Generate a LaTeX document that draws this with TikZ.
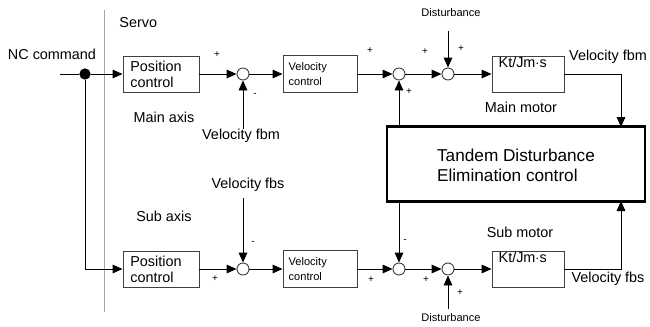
\documentclass[tikz,border=0pt]{standalone}
\usepackage{fontspec}
\setmainfont{Liberation Sans}
\usetikzlibrary{arrows.meta}

\tikzset{
  ctrlbox/.style={draw=black!75, line width=0.7pt, align=left, inner xsep=4.5pt,
    font=\fontsize{10.8}{12}\selectfont},
  smallbox/.style={draw=black!75, line width=0.7pt, align=left, inner xsep=3.5pt,
    font=\fontsize{8.3}{11}\selectfont},
  sumnode/.style={draw=black!75, circle, line width=0.7pt, minimum size=9pt, inner sep=0pt},
  sgn/.style={font=\fontsize{7.5}{7.5}\selectfont, inner sep=0pt},
  txt/.style={font=\fontsize{10.8}{12}\selectfont, inner sep=0pt},
  smalltxt/.style={font=\fontsize{8.3}{9}\selectfont, inner sep=0pt},
}

\begin{document}
\begin{tikzpicture}[x=0.75pt,y=-0.75pt, line width=0.7pt,
    >={Triangle[length=7.5pt,width=6.5pt]}]
        \useasboundingbox (0,0) rectangle (650,326);

        \def\ym{74}
        \def\ys{269}

        % servo border
        \draw[black!35, line width=0.6pt] (104,10) -- (104,312);
        \node[txt, anchor=west] (servo) at (119,23) {Servo};

        \node[txt] (nc) at (52,54) {NC command};
        \coordinate (ncin) at (60,\ym);
        \node[circle, fill=black, minimum size=8.5pt, inner sep=0pt] (split) at (85,\ym) {};

        % main axis
        \node[ctrlbox, minimum width=57pt, minimum height=27pt, text width=46pt] (posm) at (161,\ym) {Position\\control};
        \node[sumnode] (sum1m) at (243,\ym) {};
        \node[smallbox, minimum width=55.5pt, minimum height=27.75pt, text width=47pt] (velm) at (320,\ym) {Velocity\\control};
        \node[sumnode] (sum2m) at (399,\ym) {};
        \node[sumnode] (sum3m) at (448,\ym) {};
        \node[ctrlbox, minimum width=54pt, text width=44pt, inner ysep=1pt, text height=7.5pt, text depth=17.5pt] (motm) at (528,\ym) {Kt/Jm$\cdot$s};

        \node[txt] (axm) at (164,117) {Main axis};
        \node[txt] (fbm) at (241,136) {Velocity fbm};
        \node[smalltxt] (distm) at (451,13) {Disturbance};
        \coordinate (distmin) at (448,31);
        \node[txt] (motmlbl) at (521,107) {Main motor};
        \node[txt] (fbmout) at (608,57) {Velocity fbm};

        \node[sgn] (pa) at (217,55) {+};
        \node[sgn] (pb) at (255,95) {-};
        \node[sgn] (pc) at (370,51) {+};
        \node[sgn] (pd) at (409,92) {+};
        \node[sgn] (pe) at (425,52) {+};
        \node[sgn] (pf) at (461,49) {+};

        % tandem block
        \node[draw, line width=2.2pt, minimum width=193.5pt, minimum height=56pt] (tde) at (516,164) {};
        \node[font=\fontsize{12.9}{15}\selectfont, align=left, inner sep=0pt] (tdetxt) at (516,165) {Tandem Disturbance\\Elimination control};
        \coordinate (tdem) at (621,127);
        \coordinate (tdes) at (621,201);

        % sub axis
        \node[ctrlbox, minimum width=57pt, minimum height=27pt, text width=46pt] (poss) at (161,\ys) {Position\\control};
        \node[sumnode] (sum1s) at (243,\ys) {};
        \node[smallbox, minimum width=55.5pt, minimum height=27.75pt, text width=47pt] (vels) at (320,\ys) {Velocity\\control};
        \node[sumnode] (sum2s) at (399,\ys) {};
        \node[sumnode] (sum3s) at (448,\ys) {};
        \node[ctrlbox, minimum width=54pt, text width=44pt, inner ysep=1pt, text height=7.5pt, text depth=17.5pt] (mots) at (528,\ys) {Kt/Jm$\cdot$s};

        \node[txt] (axs) at (164,216) {Sub axis};
        \node[txt] (fbs) at (248,185) {Velocity fbs};
        \coordinate (fbsin) at (243,198);
        \node[smalltxt] (dists) at (451,318) {Disturbance};
        \coordinate (distsin) at (448,309);
        \node[txt] (motslbl) at (520,232) {Sub motor};
        \node[txt] (fbsout) at (608,279) {Velocity fbs};

        \node[sgn] (qa) at (215,279) {+};
        \node[sgn] (qb) at (253,243) {-};
        \node[sgn] (qc) at (371,280) {+};
        \node[sgn] (qd) at (405,241) {-};
        \node[sgn] (qe) at (426,280) {+};
        \node[sgn] (qf) at (460,293) {+};

        % connectors
        \draw (ncin) -- (split);
        \draw[->] (split) -- (posm);
        \draw[->] (split) |- (poss);

        \draw[->] (posm) -- (sum1m);
        \draw[->] (sum1m) -- (velm);
        \draw[->] (velm) -- (sum2m);
        \draw[->] (sum2m) -- (sum3m);
        \draw[->] (sum3m) -- (motm);
        \draw[->] (fbm.north -| sum1m) -- (sum1m);
        \draw[->] (distmin) -- (sum3m);
        \draw[->] (tde.north -| sum2m) -- (sum2m);
        \draw[->] (motm.east) -| (tdem);

        \draw[->] (poss) -- (sum1s);
        \draw[->] (sum1s) -- (vels);
        \draw[->] (vels) -- (sum2s);
        \draw[->] (sum2s) -- (sum3s);
        \draw[->] (sum3s) -- (mots);
        \draw[->] (fbsin) -- (sum1s);
        \draw[->] (distsin) -- (sum3s);
        \draw[->] (tde.south -| sum2s) -- (sum2s);
        \draw[->] (mots.east) -| (tdes);

      \end{tikzpicture}
\end{document}
